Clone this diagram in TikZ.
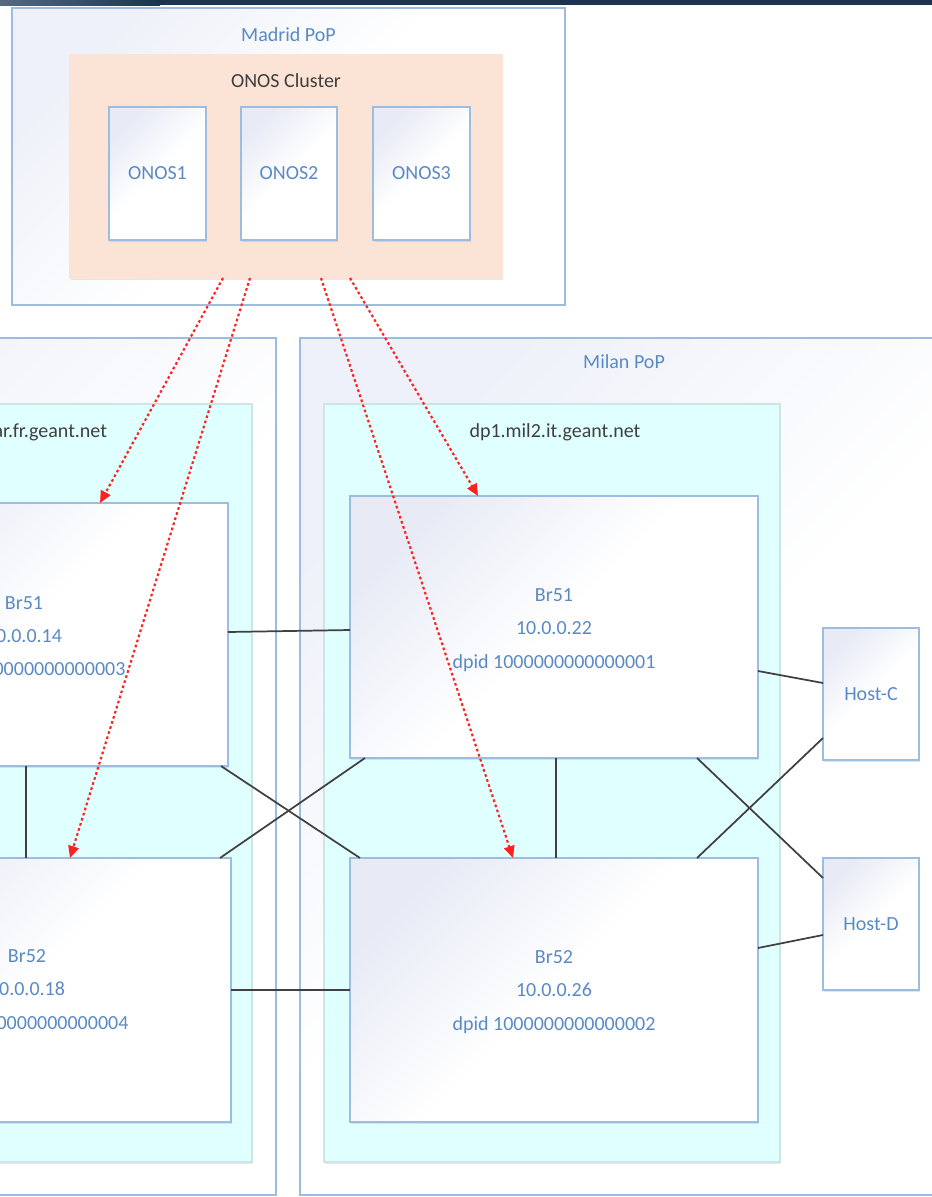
\documentclass[tikz,border=0pt]{standalone}
\usepackage{fontspec}
\setmainfont{Carlito}
\usetikzlibrary{fit,calc,shadows,arrows.meta}
\definecolor{bordercol}{HTML}{9DBDE0}
\definecolor{textblue}{HTML}{5A8AC6}
\definecolor{darktext}{HTML}{3F3F3F}
\definecolor{cyanfill}{HTML}{E0FFFF}
\definecolor{peach}{HTML}{FBE4D5}
\definecolor{lav}{HTML}{E8EBF6}
\definecolor{poplav}{HTML}{EEF1F9}
\definecolor{navy}{HTML}{1C3450}
\definecolor{navylight}{HTML}{56697F}
\definecolor{arrowred}{HTML}{FF2020}
\tikzset{
  base/.style={inner sep=0pt, outer sep=0pt, draw=bordercol, line width=0.9pt},
  popbox/.style={base, top color=poplav, bottom color=white, middle color=white, shading angle=45},
  cyanbox/.style={base, draw=cyanfill!80!gray, fill=cyanfill, drop shadow={shadow xshift=1pt, shadow yshift=-1.2pt, opacity=0.18}},
  clusterbox/.style={base, draw=peach, fill=peach, drop shadow={shadow xshift=1pt, shadow yshift=-1.2pt, opacity=0.18}},
  devbox/.style={base, top color=lav, bottom color=white, middle color=white, shading angle=45, drop shadow={shadow xshift=1pt, shadow yshift=-1.2pt, opacity=0.2}},
  bluetext/.style={text=textblue, font=\fontsize{15}{25}\selectfont, align=center, inner sep=0pt},
  darklabel/.style={text=darktext, font=\fontsize{15}{18}\selectfont, inner sep=0pt},
  link/.style={draw=black!75, line width=1.3pt},
  ctrl/.style={draw=arrowred, line width=1.6pt, dash pattern=on 2pt off 2pt, -{Triangle[length=9pt,width=8pt]}},
}
\begin{document}
\begin{tikzpicture}[x=0.75pt,y=-0.75pt]
\useasboundingbox (0,0) rectangle (932,1197);
% top band
\fill[navy] (0,0) rectangle (932,5);
\shade[left color=navylight, right color=navy] (0,0) rectangle (160,5);
% Madrid PoP
\node[popbox, fit={(12,8)(565,305)}] (madrid) {};
\node[bluetext] (madridlbl) at ($(madrid.north)+(0,27)$) {Madrid PoP};
\node[clusterbox, fit={(70,55)(502,278)}] (cl) {};
\node[darklabel] (cllbl) at ($(cl.north)+(0,26)$) {ONOS Cluster};
\node[devbox, fit={(109,107)(206,240)}] (o1) {};
\node[devbox, fit={(241,107)(337,240)}] (o2) {};
\node[devbox, fit={(373,107)(470,240)}] (o3) {};
\node[bluetext] (o1t) at (o1.center) {ONOS1};
\node[bluetext] (o2t) at (o2.center) {ONOS2};
\node[bluetext] (o3t) at (o3.center) {ONOS3};
% PoPs
\node[popbox, fit={(-372,338)(276,1195)}] (paris) {};
\node[popbox, fit={(300,338)(948,1195)}] (milan) {};
\node[bluetext] (milanlbl) at ($(milan.north)+(0,24)$) {Milan PoP};
\node[cyanbox, fit={(-204,404)(252,1162)}] (pc) {};
\node[cyanbox, fit={(324,404)(780,1162)}] (mc) {};
\node[darklabel] (pclbl) at ($(pc.north)+(3,28)$) {dp1.par.fr.geant.net};
\node[darklabel] (mclbl) at ($(mc.north)+(3,28)$) {dp1.mil2.it.geant.net};
% bridges
\node[devbox, fit={(-180,503)(228,766)}] (lb1) {};
\node[devbox, fit={(-177,858)(231,1122)}] (lb2) {};
\node[devbox, fit={(350,496)(758,758)}] (mb1) {};
\node[devbox, fit={(350,858)(758,1122)}] (mb2) {};
\node[bluetext] (lb1t) at ($(lb1.center)+(0,3)$) {Br51\\10.0.0.14\\dpid 1000000000000003};
\node[bluetext] (lb2t) at ($(lb2.center)+(0,1)$) {Br52\\10.0.0.18\\dpid 1000000000000004};
\node[bluetext] (mb1t) at ($(mb1.center)+(0,3)$) {Br51\\10.0.0.22\\dpid 1000000000000001};
\node[bluetext] (mb2t) at ($(mb2.center)+(0,2)$) {Br52\\10.0.0.26\\dpid 1000000000000002};
% hosts
\node[devbox, fit={(823,628)(919,760)}] (hc) {};
\node[devbox, fit={(823,858)(919,990)}] (hd) {};
\node[bluetext] (hct) at (hc.center) {Host-C};
\node[bluetext] (hdt) at (hd.center) {Host-D};
% links
\draw[link] ($(lb1.north east)+(0,129)$) -- ($(mb1.north west)+(0,134)$);
\draw[link] (lb2.east) -- (mb2.west);
\draw[link] ($(lb1.south west)+(206,0)$) -- ($(lb2.north west)+(203,0)$);
\draw[link] ($(mb1.south west)+(206,0)$) -- ($(mb2.north west)+(206,0)$);
\draw[link] ($(lb1.south east)+(-7,0)$) -- ($(mb2.north west)+(10,0)$);
\draw[link] ($(mb1.south west)+(15,0)$) -- ($(lb2.north east)+(-11,0)$);
\draw[link] ($(mb1.north east)+(0,175)$) -- ($(hc.north west)+(0,55)$);
\draw[link] ($(mb1.south west)+(347,0)$) -- ($(hd.north west)+(0,20)$);
\draw[link] ($(mb2.north west)+(347,0)$) -- ($(hc.north west)+(0,110)$);
\draw[link] ($(mb2.north east)+(0,90)$) -- ($(hd.north west)+(0,77)$);
% control arrows
\draw[ctrl] ($(cl.south west)+(153,0)$) -- ($(lb1.north east)+(-128,0)$);
\draw[ctrl] ($(cl.south west)+(180,0)$) -- ($(lb2.north east)+(-161,0)$);
\draw[ctrl] ($(cl.south west)+(251,0)$) -- ($(mb2.north west)+(163,0)$);
\draw[ctrl] ($(cl.south west)+(280,0)$) -- ($(mb1.north west)+(128,0)$);
\end{tikzpicture}
\end{document}
